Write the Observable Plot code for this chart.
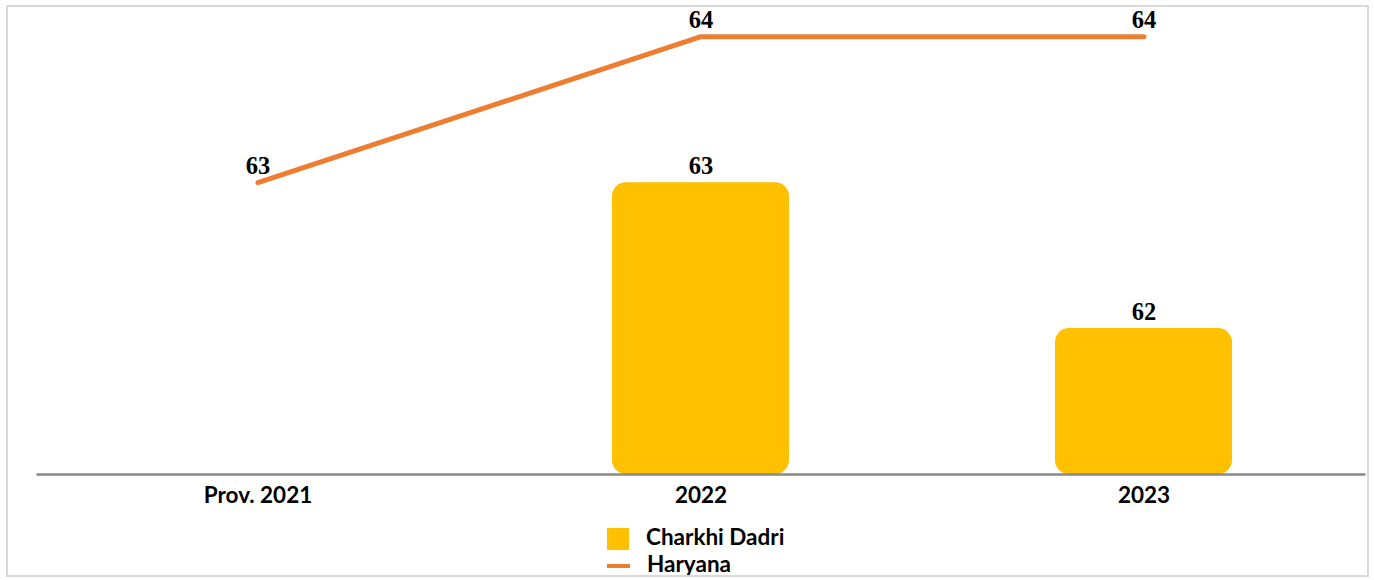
<!DOCTYPE html>
<html><head><meta charset="utf-8">
<script src="https://cdn.jsdelivr.net/npm/d3@7"></script>
<script src="https://cdn.jsdelivr.net/npm/@observablehq/plot@0.6"></script>
<style>
body{margin:0;background:#fff}
#wrap{position:relative;width:1374px;height:580px;overflow:hidden;background:#fff}
#frame{position:absolute;left:6px;top:5px;width:1359px;height:568px;border:2px solid #d9d9d9;pointer-events:none}
#chart{position:absolute;left:0;top:0}
.leg{position:absolute;left:607px;font-family:Lato,sans-serif;font-weight:bold;font-size:22.5px;color:#000;display:flex;align-items:center;height:24px;line-height:24px}
.sw{display:inline-block;margin-right:17px}
</style></head>
<body>
<div id="wrap">
  <div id="chart"></div>
  <div id="legend"></div>
  <div id="frame"></div>
</div>
<script>
const years = ["Prov. 2021", "2022", "2023"];
const charkhiDadri = [null, 63, 62];
const haryana = [63, 64, 64];
const seriesNames = ["Charkhi Dadri", "Haryana"];
const seriesColors = ["#FFC000", "#ED7D31"];

const barData = years.map((y, i) => ({year: y, value: charkhiDadri[i]})).filter(d => d.value != null);
const lineData = years.map((y, i) => ({year: y, value: haryana[i]}));

const valueFont = {fontFamily: "'Liberation Serif', 'DejaVu Serif', serif", fontWeight: "bold", fontSize: 24.5, fill: "#000"};

const chart = Plot.plot({
  width: 1374,
  height: 514,
  marginLeft: 36.5,
  marginRight: 8.5,
  marginTop: 7,
  marginBottom: 40,
  style: {background: "transparent", color: "#000"},
  x: {type: "band", domain: years, paddingInner: 0.6, paddingOuter: 0.3, align: 0.5, label: null},
  y: {domain: [61, 64.2], axis: null},
  marks: [
    Plot.barY(barData, {x: "year", y1: 61, y2: "value", fill: seriesColors[0], rx: 14}),
    Plot.ruleY([61], {stroke: "#898989", strokeWidth: 2.5}),
    Plot.line(lineData, {x: "year", y: "value", stroke: seriesColors[1], strokeWidth: 5, strokeLinecap: "round", strokeLinejoin: "round"}),
    Plot.text(lineData, {x: "year", y: "value", text: d => String(d.value), lineAnchor: "bottom", dy: -9, ...valueFont}),
    Plot.text(barData, {x: "year", y: "value", text: d => String(d.value), lineAnchor: "bottom", dy: -9, ...valueFont}),
    Plot.axisX({tickSize: 0, tickPadding: 13, fontSize: 22.5, fontWeight: "bold", fontFamily: "Lato, sans-serif", fill: "#000", label: null})
  ]
});
document.getElementById("chart").appendChild(chart);

const legend = document.getElementById("legend");
const legTops = [525, 552];
seriesNames.forEach((name, i) => {
  const row = document.createElement("div");
  row.className = "leg";
  row.style.top = legTops[i] + "px";
  const sw = document.createElement("span");
  sw.className = "sw";
  sw.style.background = seriesColors[i];
  if (i === 0) { sw.style.width = "22px"; sw.style.height = "22px"; sw.style.marginTop = "4px"; }
  else { sw.style.width = "23px"; sw.style.height = "4px"; sw.style.marginTop = "3px"; }
  row.appendChild(sw);
  row.appendChild(document.createTextNode(name));
  legend.appendChild(row);
});
</script>
</body></html>
